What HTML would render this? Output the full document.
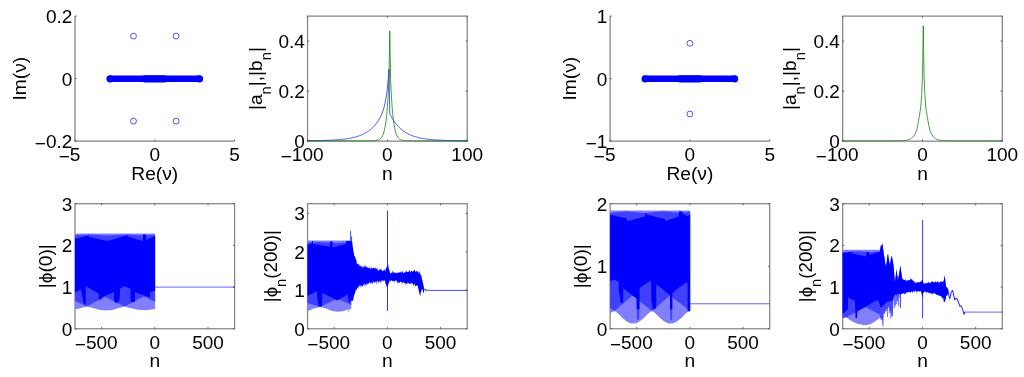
<!DOCTYPE html>
<html lang="en"><head><meta charset="utf-8"><title>figure</title>
<style>html,body{margin:0;padding:0;background:#fff;overflow:hidden}svg{display:block}</style></head>
<body>
<svg width="1024" height="377" viewBox="0 0 1024 377" font-family='"Liberation Sans", "DejaVu Sans", sans-serif' fill="#000">
<rect width="1024" height="377" fill="#fff"/>
<path d="M75 16.1V141.15H234.6" fill="none" stroke="#858585" stroke-width="1.25"/>
<path d="M75 141.15v-1.6M154.8 141.15v-1.6M234.6 141.15v-1.6M75 141.15h1.6M75 78.62h1.6M75 16.1h1.6" fill="none" stroke="#555" stroke-width="1"/>
<line x1="110.11" y1="78.78" x2="199.49" y2="78.78" stroke="#0000ff" stroke-width="6.6" stroke-linecap="round"/>
<line x1="145.22" y1="78.78" x2="164.38" y2="78.78" stroke="#0000ff" stroke-width="7.2" stroke-linecap="round"/>
<circle cx="110.11" cy="78.78" r="3.65" fill="#0000ff"/>
<circle cx="199.49" cy="78.78" r="3.65" fill="#0000ff"/>
<circle cx="133.48" cy="36.11" r="2.95" fill="none" stroke="#0000ff" stroke-width="0.68"/>
<circle cx="176.12" cy="36.11" r="2.95" fill="none" stroke="#0000ff" stroke-width="0.68"/>
<circle cx="133.48" cy="121.14" r="2.95" fill="none" stroke="#0000ff" stroke-width="0.68"/>
<circle cx="176.12" cy="121.14" r="2.95" fill="none" stroke="#0000ff" stroke-width="0.68"/>
<text x="69.6" y="161.45" text-anchor="middle" font-size="19.0"><tspan dy="1.7">−</tspan><tspan dy="-1.7">5</tspan></text>
<text x="154.8" y="161.45" text-anchor="middle" font-size="19.0">0</text>
<text x="234.6" y="161.45" text-anchor="middle" font-size="19.0">5</text>
<text x="72.3" y="148" text-anchor="end" font-size="19.0"><tspan dy="1.7">−</tspan><tspan dy="-1.7">0.2</tspan></text>
<text x="72.3" y="86" text-anchor="end" font-size="19.0">0</text>
<text x="72.3" y="23" text-anchor="end" font-size="19.0">0.2</text>
<text x="154.8" y="179.7" text-anchor="middle" font-size="19.2">Re(ν)</text>
<text transform="translate(25.5 78.62) rotate(-90)" text-anchor="middle" font-size="19.2">Im(ν)</text>
<path d="M610.1 16.1V141.15H769.7" fill="none" stroke="#858585" stroke-width="1.25"/>
<path d="M610.1 141.15v-1.6M689.9 141.15v-1.6M769.7 141.15v-1.6M610.1 141.15h1.6M610.1 78.62h1.6M610.1 16.1h1.6" fill="none" stroke="#555" stroke-width="1"/>
<line x1="645.21" y1="78.78" x2="734.59" y2="78.78" stroke="#0000ff" stroke-width="6.6" stroke-linecap="round"/>
<line x1="680.32" y1="78.78" x2="699.48" y2="78.78" stroke="#0000ff" stroke-width="7.2" stroke-linecap="round"/>
<circle cx="645.21" cy="78.78" r="3.65" fill="#0000ff"/>
<circle cx="734.59" cy="78.78" r="3.65" fill="#0000ff"/>
<circle cx="689.9" cy="43.3" r="2.95" fill="none" stroke="#0000ff" stroke-width="0.68"/>
<circle cx="689.9" cy="113.95" r="2.95" fill="none" stroke="#0000ff" stroke-width="0.68"/>
<text x="604.7" y="161.45" text-anchor="middle" font-size="19.0"><tspan dy="1.7">−</tspan><tspan dy="-1.7">5</tspan></text>
<text x="689.9" y="161.45" text-anchor="middle" font-size="19.0">0</text>
<text x="769.7" y="161.45" text-anchor="middle" font-size="19.0">5</text>
<text x="607.4" y="148" text-anchor="end" font-size="19.0"><tspan dy="1.7">−</tspan><tspan dy="-1.7">1</tspan></text>
<text x="607.4" y="86" text-anchor="end" font-size="19.0">0</text>
<text x="607.4" y="23" text-anchor="end" font-size="19.0">1</text>
<text x="689.9" y="179.7" text-anchor="middle" font-size="19.2">Re(ν)</text>
<text transform="translate(576.3 78.62) rotate(-90)" text-anchor="middle" font-size="19.2">Im(ν)</text>
<rect x="307.55" y="16.1" width="159.65" height="125.05" fill="none" stroke="#858585" stroke-width="1.25"/>
<path d="M307.55 141.15v-1.6M307.55 16.1v1.6M387.38 141.15v-1.6M387.38 16.1v1.6M467.2 141.15v-1.6M467.2 16.1v1.6M307.55 141.15h1.6M467.2 141.15h-1.6M307.55 91.13h1.6M467.2 91.13h-1.6M307.55 41.11h1.6M467.2 41.11h-1.6" fill="none" stroke="#555" stroke-width="1"/>
<polyline points="307.55,140.72 308.35,140.72 309.15,140.71 309.94,140.7 310.74,140.69 311.54,140.68 312.34,140.67 313.14,140.66 313.94,140.65 314.73,140.64 315.53,140.63 316.33,140.62 317.13,140.6 317.93,140.59 318.73,140.57 319.52,140.56 320.32,140.54 321.12,140.52 321.92,140.5 322.72,140.48 323.51,140.46 324.31,140.43 325.11,140.41 325.91,140.38 326.71,140.36 327.51,140.33 328.3,140.3 329.1,140.26 329.9,140.23 330.7,140.19 331.5,140.16 332.3,140.11 333.09,140.07 333.89,140.03 334.69,139.98 335.49,139.93 336.29,139.87 337.09,139.81 337.88,139.75 338.68,139.69 339.48,139.62 340.28,139.55 341.08,139.47 341.87,139.39 342.67,139.3 343.47,139.21 344.27,139.12 345.07,139.01 345.87,138.91 346.66,138.79 347.46,138.67 348.26,138.54 349.06,138.41 349.86,138.26 350.66,138.11 351.45,137.95 352.25,137.78 353.05,137.6 353.85,137.41 354.65,137.21 355.44,136.99 356.24,136.77 357.04,136.53 357.84,136.27 358.64,136 359.44,135.72 360.23,135.42 361.03,135.1 361.83,134.76 362.63,134.4 363.43,134.02 364.23,133.62 365.02,133.19 365.82,132.74 366.62,132.26 367.42,131.76 368.22,131.22 369.02,130.65 369.81,130.05 370.61,129.41 371.41,128.74 372.21,128.02 373.01,127.25 373.8,126.44 374.6,125.58 375.4,124.66 376.2,123.67 377,122.61 377.8,121.47 378.59,120.24 379.39,118.9 380.19,117.43 380.99,115.8 381.79,113.98 382.59,111.92 383.38,109.54 384.18,106.75 384.98,103.42 385.78,99.37 386.58,94.36 387.38,88.03 388.17,79.91 388.97,69.32 389.77,113.91 390.57,115.45 391.37,116.9 392.16,118.27 392.96,119.56 393.76,120.78 394.56,121.92 395.36,123 396.16,124.02 396.95,124.98 397.75,125.89 398.55,126.75 399.35,127.55 400.15,128.31 400.95,129.03 401.74,129.7 402.54,130.34 403.34,130.94 404.14,131.51 404.94,132.04 405.73,132.54 406.53,133.02 407.33,133.47 408.13,133.89 408.93,134.28 409.73,134.66 410.52,135.01 411.32,135.35 412.12,135.66 412.92,135.96 413.72,136.24 414.52,136.5 415.31,136.75 416.11,136.98 416.91,137.2 417.71,137.41 418.51,137.61 419.31,137.79 420.1,137.97 420.9,138.13 421.7,138.29 422.5,138.43 423.3,138.57 424.09,138.7 424.89,138.83 425.69,138.94 426.49,139.05 427.29,139.15 428.09,139.25 428.88,139.34 429.68,139.43 430.48,139.51 431.28,139.59 432.08,139.66 432.88,139.73 433.67,139.79 434.47,139.85 435.27,139.91 436.07,139.96 436.87,140.01 437.66,140.06 438.46,140.11 439.26,140.15 440.06,140.19 440.86,140.23 441.66,140.26 442.45,140.3 443.25,140.33 444.05,140.36 444.85,140.38 445.65,140.41 446.45,140.44 447.24,140.46 448.04,140.48 448.84,140.5 449.64,140.52 450.44,140.54 451.24,140.56 452.03,140.58 452.83,140.59 453.63,140.61 454.43,140.62 455.23,140.63 456.02,140.65 456.82,140.66 457.62,140.67 458.42,140.68 459.22,140.69 460.02,140.7 460.81,140.71 461.61,140.71 462.41,140.72 463.21,140.73 464.01,140.74 464.81,140.74 465.6,140.75 466.4,140.75 467.2,140.76" fill="none" stroke="#0000ff" stroke-width="0.68" stroke-linejoin="round"/>
<polyline points="307.55,140.85 308.35,140.85 309.15,140.85 309.94,140.85 310.74,140.85 311.54,140.85 312.34,140.85 313.14,140.85 313.94,140.85 314.73,140.85 315.53,140.85 316.33,140.85 317.13,140.85 317.93,140.85 318.73,140.84 319.52,140.84 320.32,140.84 321.12,140.84 321.92,140.84 322.72,140.84 323.51,140.84 324.31,140.84 325.11,140.84 325.91,140.84 326.71,140.84 327.51,140.84 328.3,140.84 329.1,140.84 329.9,140.84 330.7,140.84 331.5,140.84 332.3,140.84 333.09,140.84 333.89,140.84 334.69,140.84 335.49,140.84 336.29,140.84 337.09,140.84 337.88,140.84 338.68,140.84 339.48,140.84 340.28,140.84 341.08,140.84 341.87,140.84 342.67,140.84 343.47,140.84 344.27,140.84 345.07,140.84 345.87,140.84 346.66,140.84 347.46,140.84 348.26,140.84 349.06,140.84 349.86,140.84 350.66,140.84 351.45,140.83 352.25,140.83 353.05,140.83 353.85,140.83 354.65,140.83 355.44,140.83 356.24,140.83 357.04,140.83 357.84,140.83 358.64,140.83 359.44,140.83 360.23,140.83 361.03,140.83 361.83,140.83 362.63,140.83 363.43,140.83 364.23,140.83 365.02,140.83 365.82,140.82 366.62,140.82 367.42,140.81 368.22,140.8 369.02,140.79 369.81,140.77 370.61,140.75 371.41,140.73 372.21,140.7 373.01,140.66 373.8,140.61 374.6,140.55 375.4,140.47 376.2,140.37 377,140.25 377.8,140.1 378.59,139.82 379.39,139.44 380.19,138.91 380.99,138.19 381.79,137.2 382.59,135.76 383.38,133.75 384.18,130.95 384.98,127.51 385.78,122.88 386.58,116.51 387.38,107.39 388.17,95.83 388.97,78.33 389.77,30.81 390.57,78.33 391.37,95.83 392.16,107.39 392.96,116.51 393.76,122.88 394.56,127.51 395.36,130.95 396.16,133.75 396.95,135.76 397.75,137.2 398.55,138.19 399.35,138.91 400.15,139.44 400.95,139.82 401.74,140.1 402.54,140.25 403.34,140.37 404.14,140.47 404.94,140.55 405.73,140.61 406.53,140.66 407.33,140.7 408.13,140.73 408.93,140.75 409.73,140.77 410.52,140.79 411.32,140.8 412.12,140.81 412.92,140.82 413.72,140.82 414.52,140.83 415.31,140.83 416.11,140.83 416.91,140.83 417.71,140.83 418.51,140.83 419.31,140.83 420.1,140.83 420.9,140.83 421.7,140.83 422.5,140.83 423.3,140.83 424.09,140.83 424.89,140.83 425.69,140.83 426.49,140.83 427.29,140.83 428.09,140.83 428.88,140.84 429.68,140.84 430.48,140.84 431.28,140.84 432.08,140.84 432.88,140.84 433.67,140.84 434.47,140.84 435.27,140.84 436.07,140.84 436.87,140.84 437.66,140.84 438.46,140.84 439.26,140.84 440.06,140.84 440.86,140.84 441.66,140.84 442.45,140.84 443.25,140.84 444.05,140.84 444.85,140.84 445.65,140.84 446.45,140.84 447.24,140.84 448.04,140.84 448.84,140.84 449.64,140.84 450.44,140.84 451.24,140.84 452.03,140.84 452.83,140.84 453.63,140.84 454.43,140.84 455.23,140.84 456.02,140.84 456.82,140.84 457.62,140.84 458.42,140.84 459.22,140.84 460.02,140.84 460.81,140.84 461.61,140.85 462.41,140.85 463.21,140.85 464.01,140.85 464.81,140.85 465.6,140.85 466.4,140.85 467.2,140.85" fill="none" stroke="#008000" stroke-width="0.75" stroke-linejoin="round"/>
<text x="302.15" y="161.45" text-anchor="middle" font-size="19.0"><tspan dy="1.7">−</tspan><tspan dy="-1.7">100</tspan></text>
<text x="387.38" y="161.45" text-anchor="middle" font-size="19.0">0</text>
<text x="467.2" y="161.45" text-anchor="middle" font-size="19.0">100</text>
<text x="304.85" y="148" text-anchor="end" font-size="19.0">0</text>
<text x="304.85" y="98" text-anchor="end" font-size="19.0">0.2</text>
<text x="304.85" y="48" text-anchor="end" font-size="19.0">0.4</text>
<text x="387.38" y="179.7" text-anchor="middle" font-size="19.2">n</text>
<text transform="translate(262.3 78.62) rotate(-90)" text-anchor="middle" font-size="19.2">|a<tspan dy="8.6" font-size="14.7">n</tspan><tspan dy="-8.6">|,|b</tspan><tspan dy="8.6" font-size="14.7">n</tspan><tspan dy="-8.6">|</tspan></text>
<rect x="842.65" y="16.1" width="159.65" height="125.05" fill="none" stroke="#858585" stroke-width="1.25"/>
<path d="M842.65 141.15v-1.6M842.65 16.1v1.6M922.48 141.15v-1.6M922.48 16.1v1.6M1002.3 141.15v-1.6M1002.3 16.1v1.6M842.65 141.15h1.6M1002.3 141.15h-1.6M842.65 91.13h1.6M1002.3 91.13h-1.6M842.65 41.11h1.6M1002.3 41.11h-1.6" fill="none" stroke="#555" stroke-width="1"/>
<polyline points="842.65,140.85 843.45,140.85 844.25,140.85 845.04,140.85 845.84,140.85 846.64,140.85 847.44,140.85 848.24,140.85 849.04,140.85 849.83,140.84 850.63,140.84 851.43,140.84 852.23,140.84 853.03,140.84 853.83,140.84 854.62,140.84 855.42,140.84 856.22,140.84 857.02,140.84 857.82,140.84 858.62,140.84 859.41,140.84 860.21,140.84 861.01,140.84 861.81,140.84 862.61,140.84 863.4,140.84 864.2,140.84 865,140.84 865.8,140.84 866.6,140.84 867.4,140.84 868.19,140.84 868.99,140.84 869.79,140.84 870.59,140.84 871.39,140.84 872.19,140.84 872.98,140.84 873.78,140.84 874.58,140.84 875.38,140.84 876.18,140.84 876.97,140.84 877.77,140.84 878.57,140.84 879.37,140.84 880.17,140.84 880.97,140.83 881.76,140.83 882.56,140.83 883.36,140.83 884.16,140.83 884.96,140.83 885.76,140.83 886.55,140.83 887.35,140.83 888.15,140.83 888.95,140.83 889.75,140.83 890.55,140.83 891.34,140.83 892.14,140.83 892.94,140.83 893.74,140.83 894.54,140.83 895.33,140.82 896.13,140.82 896.93,140.81 897.73,140.8 898.53,140.79 899.33,140.77 900.12,140.75 900.92,140.73 901.72,140.7 902.52,140.66 903.32,140.61 904.12,140.55 904.91,140.47 905.71,140.37 906.51,140.25 907.31,140.1 908.11,139.9 908.9,139.65 909.7,139.33 910.5,138.92 911.3,138.41 912.1,137.75 912.9,136.96 913.69,136.04 914.49,134.9 915.29,133.49 916.09,131.75 916.89,129.25 917.69,125.75 918.48,121.21 919.28,116.36 920.08,111.62 920.88,105.94 921.68,94.58 922.48,75.82 923.27,25.8 924.07,75.82 924.87,94.58 925.67,105.94 926.47,111.62 927.26,116.36 928.06,121.21 928.86,125.75 929.66,129.25 930.46,131.75 931.26,133.49 932.05,134.9 932.85,136.04 933.65,136.96 934.45,137.75 935.25,138.41 936.05,138.92 936.84,139.33 937.64,139.65 938.44,139.9 939.24,140.1 940.04,140.25 940.83,140.37 941.63,140.47 942.43,140.55 943.23,140.61 944.03,140.66 944.83,140.7 945.62,140.73 946.42,140.75 947.22,140.77 948.02,140.79 948.82,140.8 949.62,140.81 950.41,140.82 951.21,140.82 952.01,140.83 952.81,140.83 953.61,140.83 954.4,140.83 955.2,140.83 956,140.83 956.8,140.83 957.6,140.83 958.4,140.83 959.19,140.83 959.99,140.83 960.79,140.83 961.59,140.83 962.39,140.83 963.19,140.83 963.98,140.83 964.78,140.83 965.58,140.83 966.38,140.84 967.18,140.84 967.98,140.84 968.77,140.84 969.57,140.84 970.37,140.84 971.17,140.84 971.97,140.84 972.76,140.84 973.56,140.84 974.36,140.84 975.16,140.84 975.96,140.84 976.76,140.84 977.55,140.84 978.35,140.84 979.15,140.84 979.95,140.84 980.75,140.84 981.55,140.84 982.34,140.84 983.14,140.84 983.94,140.84 984.74,140.84 985.54,140.84 986.34,140.84 987.13,140.84 987.93,140.84 988.73,140.84 989.53,140.84 990.33,140.84 991.12,140.84 991.92,140.84 992.72,140.84 993.52,140.84 994.32,140.84 995.12,140.84 995.91,140.84 996.71,140.84 997.51,140.85 998.31,140.85 999.11,140.85 999.91,140.85 1000.7,140.85 1001.5,140.85 1002.3,140.85" fill="none" stroke="#008000" stroke-width="0.75" stroke-linejoin="round"/>
<text x="837.25" y="161.45" text-anchor="middle" font-size="19.0"><tspan dy="1.7">−</tspan><tspan dy="-1.7">100</tspan></text>
<text x="922.48" y="161.45" text-anchor="middle" font-size="19.0">0</text>
<text x="1002.3" y="161.45" text-anchor="middle" font-size="19.0">100</text>
<text x="839.95" y="148" text-anchor="end" font-size="19.0">0</text>
<text x="839.95" y="98" text-anchor="end" font-size="19.0">0.2</text>
<text x="839.95" y="48" text-anchor="end" font-size="19.0">0.4</text>
<text x="922.48" y="179.7" text-anchor="middle" font-size="19.2">n</text>
<text transform="translate(796.2 78.62) rotate(-90)" text-anchor="middle" font-size="19.2">|a<tspan dy="8.6" font-size="14.7">n</tspan><tspan dy="-8.6">|,|b</tspan><tspan dy="8.6" font-size="14.7">n</tspan><tspan dy="-8.6">|</tspan></text>
<rect x="75" y="203.7" width="159.6" height="125.05" fill="none" stroke="#858585" stroke-width="1.25"/>
<path d="M101.6 328.75v-1.6M101.6 203.7v1.6M154.8 328.75v-1.6M154.8 203.7v1.6M208 328.75v-1.6M208 203.7v1.6M75 328.75h1.6M234.6 328.75h-1.6M75 287.07h1.6M234.6 287.07h-1.6M75 245.38h1.6M234.6 245.38h-1.6M75 203.7h1.6M234.6 203.7h-1.6" fill="none" stroke="#555" stroke-width="1"/>
<polygon points="75,233.45 155.1,233.45 155.1,309 150,309.8 145,310.2 138,309.8 131,308.2 124.4,306.4 118,308.2 112,310 106,310.6 100,310 93,308 86.9,306.4 81,308 75,309.5" fill="#8080ff"/>
<polygon points="75,235.3 90,234.5 108,235.5 127,234.5 143,235.5 155.1,234.7 155.1,302 143.8,296.4 124.4,306.4 104.8,296.8 103,296.8 102.6,299.3 100,299.3 86.9,306.4 75,300.8" fill="#4040ff"/>
<polygon points="75,238.8 88.7,235.6 89,237 107.5,241 108.3,240.8 127.5,235.2 128,236.5 142,241 143,241 143,234.4 146,234.4 146,240 155.1,236 155.1,290.8 150,292 150,297.2 135,292.6 135,302 130.6,302 130.6,289 124.2,286.1 120.1,288.4 119.5,300 117.9,302.7 115.5,302.7 114,301 114,292.2 105.1,295.7 99.6,299.8 98.75,299.8 98.75,293.8 85.7,286.1 85.7,304 84.7,304.6 83.8,304.3 82.5,297 80.9,289.6 75,292.5" fill="#0000ff"/>
<line x1="155.1" y1="287.1" x2="234.6" y2="287.1" stroke="#0000ff" stroke-width="0.62"/>
<text x="96.2" y="349.45" text-anchor="middle" font-size="19.0"><tspan dy="1.7">−</tspan><tspan dy="-1.7">500</tspan></text>
<text x="154.8" y="349.45" text-anchor="middle" font-size="19.0">0</text>
<text x="208" y="349.45" text-anchor="middle" font-size="19.0">500</text>
<text x="72.3" y="336" text-anchor="end" font-size="19.0">0</text>
<text x="72.3" y="294" text-anchor="end" font-size="19.0">1</text>
<text x="72.3" y="252" text-anchor="end" font-size="19.0">2</text>
<text x="72.3" y="211" text-anchor="end" font-size="19.0">3</text>
<text x="154.8" y="367.2" text-anchor="middle" font-size="19.2">n</text>
<text transform="translate(52 266.23) rotate(-90)" text-anchor="middle" font-size="19.2">|ϕ(0)|</text>
<rect x="610.1" y="203.7" width="159.6" height="125.05" fill="none" stroke="#858585" stroke-width="1.25"/>
<path d="M636.7 328.75v-1.6M636.7 203.7v1.6M689.9 328.75v-1.6M689.9 203.7v1.6M743.1 328.75v-1.6M743.1 203.7v1.6M610.1 328.75h1.6M769.7 328.75h-1.6M610.1 266.23h1.6M769.7 266.23h-1.6M610.1 203.7h1.6M769.7 203.7h-1.6" fill="none" stroke="#555" stroke-width="1"/>
<polygon points="610.1,210.55 690.15,210.55 690.15,311.6 689.4,311 687.61,312.06 685.83,313.57 684.04,315.26 682.26,316.98 680.47,318.63 678.69,320.15 676.9,321.45 675.11,322.48 673.33,323.19 671.54,323.55 669.76,323.55 667.97,323.19 666.19,322.48 664.4,321.45 662.61,320.15 660.83,318.63 659.04,316.98 657.26,315.26 655.47,313.57 653.69,312.06 651.9,311 650.11,312.06 648.33,313.57 646.54,315.26 644.76,316.98 642.97,318.63 641.19,320.15 639.4,321.45 637.61,322.48 635.83,323.19 634.04,323.55 632.26,323.55 630.47,323.19 628.69,322.48 626.9,321.45 625.11,320.15 623.33,318.63 621.54,316.98 619.76,315.26 617.97,313.57 616.19,312.06 614.4,311 610.1,312.9" fill="#8080ff"/>
<polygon points="610.1,213 626,211.2 645,213 664,211.2 680,213 690.15,211.6 690.15,311 670,295.4 651.9,311 632.5,295.4 614.4,311 610.1,308" fill="#4040ff"/>
<polygon points="636.9,309.5 639.3,309.5 639.3,319.8 636.9,319.8" fill="#4040ff"/>
<polygon points="670.2,309.5 672.2,309.5 672.2,319.8 670.2,319.8" fill="#4040ff"/>
<polygon points="610.1,214.8 626.9,218.5 627,221 629.8,221 630,220.4 645,216.6 645,213.5 646.9,213.5 646.9,214.8 665,219.1 665.1,221 666.8,221 666.9,220.4 678.8,216.6 678.8,211.6 682.5,211.6 682.5,213.5 687.5,216 690.15,214.8 690.15,311.2 687.6,311.2 687.6,283.5 686.3,282.2 677.5,288.8 672.4,293 672.4,309.5 670,309.5 670,295.4 660,287 656.25,284.5 656.25,308 653,309.8 651.25,300 651.25,281 650,281 642.5,286 639.6,288 639.6,309.5 636.6,309.5 636.6,298.5 632.5,295.4 623.75,288.5 623.1,288.5 623.1,303.5 620.6,302.3 618.75,290 618.75,282 614.5,279.5 610.1,281" fill="#0000ff"/>
<line x1="690.15" y1="303.75" x2="769.7" y2="303.75" stroke="#0000ff" stroke-width="0.6"/>
<text x="631.3" y="349.45" text-anchor="middle" font-size="19.0"><tspan dy="1.7">−</tspan><tspan dy="-1.7">500</tspan></text>
<text x="689.9" y="349.45" text-anchor="middle" font-size="19.0">0</text>
<text x="743.1" y="349.45" text-anchor="middle" font-size="19.0">500</text>
<text x="607.4" y="336" text-anchor="end" font-size="19.0">0</text>
<text x="607.4" y="273" text-anchor="end" font-size="19.0">1</text>
<text x="607.4" y="211" text-anchor="end" font-size="19.0">2</text>
<text x="689.9" y="367.2" text-anchor="middle" font-size="19.2">n</text>
<text transform="translate(586.7 266.23) rotate(-90)" text-anchor="middle" font-size="19.2">|ϕ(0)|</text>
<rect x="307.55" y="203.7" width="159.65" height="125.05" fill="none" stroke="#858585" stroke-width="1.25"/>
<path d="M334.16 328.75v-1.6M334.16 203.7v1.6M387.38 328.75v-1.6M387.38 203.7v1.6M440.59 328.75v-1.6M440.59 203.7v1.6M307.55 328.75h1.6M467.2 328.75h-1.6M307.55 290.27h1.6M467.2 290.27h-1.6M307.55 251.8h1.6M467.2 251.8h-1.6M307.55 213.32h1.6M467.2 213.32h-1.6" fill="none" stroke="#555" stroke-width="1"/>
<polygon points="307.55,240.45 351.2,240.45 351.2,309 348,309.6 343,311.2 337.5,311.8 332,311 326,308.6 320,307 314,308.6 307.55,310.9" fill="#8080ff"/>
<polygon points="307.55,242.8 320,242 337,242.9 351.2,242 351.2,305 337.5,298.5 320,307 307.55,303" fill="#4040ff"/>
<polygon points="307.55,245 312,243 312,241 313,241 313,244 330,246.5 330,241.5 332.5,241.5 332.5,247.5 346,244 346,241 351.2,241 351.2,296 350,302 348.5,302 348,294 345,296 337.5,300.5 322.3,293 322,306.5 319,306.5 317.5,300 316.8,291.5 316,291.5 307.55,296" fill="#0000ff"/>
<path d="M350.6 230.8V262M351.6 236.5V262" stroke="#4c4cff" stroke-width="1" fill="none"/>
<polygon points="349.4,241 351.4,241 352.4,262 349.4,262" fill="#0000ff"/>
<polygon points="348.2,309 348.8,313.6 349.4,309" fill="#8080ff"/>
<polygon points="351,237.71 351.42,241.6 351.84,243.62 352.26,241.77 352.68,246.6 353.1,249.04 353.52,252.12 353.94,253.34 354.36,255.89 354.78,256.57 355.2,256.51 355.62,258.78 356.04,260.26 356.46,259.96 356.88,263.8 357.3,263.94 357.72,264.47 358.14,263.25 358.56,264.56 358.98,264.61 359.4,264.73 359.82,266.8 360.24,264.63 360.66,267.04 361.08,265.7 361.5,266.38 361.92,266.65 362.34,267.61 362.76,266.6 363.18,267.7 363.6,266.87 364.02,264.71 364.44,266.17 364.86,267.41 365.28,267.17 365.7,264.27 366.12,267.1 366.54,266.99 366.96,266.88 367.38,268.79 367.8,266.12 368.22,267.99 368.64,268.6 369.06,266.12 369.48,268.31 369.9,268.4 370.32,267.95 370.74,269.58 371.16,265.57 371.58,269.29 372,268 372.42,268.37 372.84,267.97 373.26,268.03 373.68,267.43 374.1,268.18 374.52,268.76 374.94,266.97 375.36,269.36 375.78,267.02 376.2,268.69 376.62,268.24 377.04,270.4 377.46,267.58 377.88,269.68 378.3,270.72 378.72,270.79 379.14,269.19 379.56,270.41 379.98,267.73 380.4,269.49 380.82,269.79 381.24,271.24 381.66,268.34 382.08,270.78 382.5,270.51 382.92,270.64 383.34,271.44 383.76,269.41 384.18,269.49 384.6,269.61 385.02,271.71 385.44,269.92 385.86,268.4 386.28,268.57 386.7,265.85 387.12,267.96 387.54,266.36 387.96,262.64 388.38,266.21 388.8,268.41 389.22,270.12 389.64,270.88 390.06,273.3 390.48,272.92 390.9,273.76 391.32,272.7 391.74,272.36 392.16,273.36 392.58,269.93 393,272.27 393.42,271.48 393.84,273.7 394.26,272.79 394.68,271.54 395.1,273.52 395.52,272.8 395.94,272.42 396.36,272.56 396.78,273.15 397.2,272.76 397.62,273.35 398.04,272.91 398.46,272.33 398.88,272.38 399.3,272.73 399.72,272.04 400.14,272.69 400.56,272.01 400.98,271.03 401.4,272.21 401.82,272.63 402.24,271.99 402.66,270.12 403.08,272.88 403.5,272.72 403.92,273.07 404.34,272.66 404.76,271.93 405.18,271.73 405.6,272.73 406.02,269.48 406.44,271.46 406.86,271.96 407.28,271.84 407.7,271.95 408.12,271.95 408.54,271.16 408.96,271.74 409.38,269.58 409.8,270.95 410.22,272.41 410.64,272.28 411.06,270.18 411.48,271.09 411.9,271.01 412.32,271.52 412.74,271.98 413.16,270.66 413.58,271.24 414,270.51 414.42,270.07 414.84,269.74 415.26,271.82 415.68,271.87 416.1,271.04 416.52,270.59 416.94,272.08 417.36,272.12 417.78,270.77 418.2,271.37 418.62,273.07 419.04,273.45 419.46,272.26 419.88,270.44 420.3,275.95 420.72,274.07 421.14,274.93 421.56,276.78 421.98,279.6 422.4,280.22 422.82,282.15 423.24,284.31 423.66,286.03 424.08,288.71 424.08,293.34 423.66,291.87 423.24,293.46 422.82,289.87 422.4,288.72 421.98,290.69 421.56,288.9 421.14,292.35 420.72,291.92 420.3,296.12 419.88,295.57 419.46,293.33 419.04,292.28 418.62,289.94 418.2,287.8 417.78,286.16 417.36,285.25 416.94,285.34 416.52,285.94 416.1,285.42 415.68,286.94 415.26,285.78 414.84,284.66 414.42,283.91 414,283.53 413.58,285.98 413.16,285.5 412.74,283.91 412.32,282.72 411.9,283.4 411.48,282.52 411.06,284.03 410.64,282.87 410.22,284.3 409.8,283.78 409.38,284.22 408.96,283.34 408.54,283.59 408.12,282.53 407.7,282.24 407.28,283.92 406.86,283.94 406.44,283.95 406.02,282.42 405.6,283.52 405.18,285.16 404.76,282.74 404.34,283.31 403.92,282.6 403.5,282.25 403.08,282.57 402.66,283.45 402.24,281.77 401.82,284.25 401.4,281.75 400.98,281.33 400.56,282.01 400.14,281.65 399.72,283.3 399.3,282.34 398.88,283.27 398.46,281.41 398.04,283.66 397.62,281.3 397.2,284.2 396.78,280.86 396.36,280.51 395.94,280.93 395.52,280.32 395.1,280.59 394.68,283.07 394.26,280.34 393.84,281.19 393.42,281.21 393,281.32 392.58,280.43 392.16,281.6 391.74,280.12 391.32,280.67 390.9,280.67 390.48,281.41 390.06,280.3 389.64,280.98 389.22,282.09 388.8,282.99 388.38,284.32 387.96,285.6 387.54,286.84 387.12,285.04 386.7,287.72 386.28,285.02 385.86,282.9 385.44,284.9 385.02,280.23 384.6,281.29 384.18,279.98 383.76,281.14 383.34,280.29 382.92,281.24 382.5,279.69 382.08,281.19 381.66,279.9 381.24,282.42 380.82,280.4 380.4,282.17 379.98,283.77 379.56,280.47 379.14,281.45 378.72,282.67 378.3,282.18 377.88,281.03 377.46,281.9 377.04,280.76 376.62,281.36 376.2,285.34 375.78,281.41 375.36,281.87 374.94,282.03 374.52,283.76 374.1,281.49 373.68,282.67 373.26,281.38 372.84,281.46 372.42,284.85 372,282.99 371.58,283.15 371.16,282.05 370.74,283.98 370.32,282.4 369.9,283.39 369.48,282.23 369.06,282.09 368.64,284.62 368.22,283.16 367.8,284.4 367.38,283.84 366.96,282.96 366.54,284.21 366.12,286.44 365.7,284.22 365.28,284.78 364.86,287.18 364.44,283.06 364.02,284.09 363.6,284.42 363.18,285.85 362.76,286.48 362.34,285.65 361.92,286.84 361.5,284.58 361.08,288.07 360.66,286.47 360.24,284.84 359.82,284.94 359.4,286.95 358.98,285.53 358.56,287.07 358.14,288.89 357.72,287.46 357.3,287.55 356.88,289.87 356.46,289.19 356.04,290.2 355.62,290.42 355.2,292.24 354.78,294.36 354.36,294.29 353.94,296.21 353.52,297.72 353.1,300.88 352.68,300.16 352.26,301.28 351.84,301.83 351.42,300.92 351,300.09" fill="#0000ff"/>
<path d="M387.5 210.6V310.9" stroke="#0000ff" stroke-width="0.8" fill="none"/>
<polyline points="424,290 425,288.8 426,291 427,289.6 428,290.8 429,290.1 430,290.4 467.2,290.4" fill="none" stroke="#0000ff" stroke-width="0.7"/>
<text x="328.76" y="349.45" text-anchor="middle" font-size="19.0"><tspan dy="1.7">−</tspan><tspan dy="-1.7">500</tspan></text>
<text x="387.38" y="349.45" text-anchor="middle" font-size="19.0">0</text>
<text x="440.59" y="349.45" text-anchor="middle" font-size="19.0">500</text>
<text x="304.85" y="336" text-anchor="end" font-size="19.0">0</text>
<text x="304.85" y="297" text-anchor="end" font-size="19.0">1</text>
<text x="304.85" y="259" text-anchor="end" font-size="19.0">2</text>
<text x="304.85" y="220" text-anchor="end" font-size="19.0">3</text>
<text x="387.38" y="367.2" text-anchor="middle" font-size="19.2">n</text>
<text transform="translate(276.9 266.23) rotate(-90)" text-anchor="middle" font-size="18.7">|ϕ<tspan dy="8.6" font-size="14.7">n</tspan><tspan dy="-8.6">(200)|</tspan></text>
<rect x="842.65" y="203.7" width="159.65" height="125.05" fill="none" stroke="#858585" stroke-width="1.25"/>
<path d="M869.26 328.75v-1.6M869.26 203.7v1.6M922.48 328.75v-1.6M922.48 203.7v1.6M975.69 328.75v-1.6M975.69 203.7v1.6M842.65 328.75h1.6M1002.3 328.75h-1.6M842.65 287.07h1.6M1002.3 287.07h-1.6M842.65 245.38h1.6M1002.3 245.38h-1.6M842.65 203.7h1.6M1002.3 203.7h-1.6" fill="none" stroke="#555" stroke-width="1"/>
<polygon points="842.65,249.75 880.6,249.75 880.6,317.6 875,321.5 871,324 865.4,325.3 858,324 852.3,321.5 847,318 842.65,315.9" fill="#8080ff"/>
<polygon points="842.65,251.9 858,251.2 870,252 880.6,251.2 880.6,315 865.4,307 846,317.5 842.65,318" fill="#4040ff"/>
<polygon points="842.65,253 852,252 852.5,253.5 866,256.6 866.5,252 869,252 869.5,255 880.6,251.5 880.6,306 878,300 875,301 865.4,307 857.5,311 857,318 855.5,318 855,301 848,297.5 848,309 845,312 842.65,314" fill="#0000ff"/>
<path d="M895.2 285V305.5M897.3 285V301M900.4 285V307.5M898.8 285V298" stroke="#0000ff" stroke-width="0.8" fill="none"/>
<path d="M882.9 300V326.5M884.6 300V314M886.2 298V311M887.6 298V317M889.4 296V313M890.8 296V318.5M892.3 296V316.5M894.6 294V308M896.6 292V304M898.4 292V306M900.4 290V307.5M881.2 300V320" stroke="#4a4aff" stroke-width="0.8" fill="none"/>
<polygon points="880,249.58 880.45,248.4 880.9,245.1 881.35,245.9 881.8,245.18 882.25,242.97 882.7,246.02 883.15,249.12 883.6,252.64 884.05,255.69 884.5,258.04 884.95,261.94 885.4,264.31 885.85,266.58 886.3,264.25 886.75,261.96 887.2,258.31 887.65,254.41 888.1,254.2 888.55,257.85 889,260.35 889.45,263.29 889.9,264.87 890.35,262.62 890.8,259.4 891.25,257 891.7,256 892.15,257.77 892.6,260.17 893.05,262.35 893.5,265.74 893.95,269.94 894.4,276.74 894.85,282.06 895.3,278.98 895.75,275.66 896.2,272.59 896.65,269.15 897.1,274.26 897.55,276.76 898,280.41 898.45,277.54 898.9,275.2 899.35,272.26 899.8,269.64 900.25,265.96 900.7,267.37 901.15,271.23 901.6,274.63 902.05,278.1 902.5,278.71 902.95,280.02 903.4,279.13 903.85,279.88 904.3,280.15 904.75,279.75 905.2,280.92 905.65,279.01 906.1,280.66 906.55,281.1 907,280.74 907.45,280.16 907.9,280.8 908.35,280.18 908.8,280.36 909.25,280.83 909.7,279.64 910.15,280.65 910.6,277.91 911.05,279.87 911.5,279.12 911.95,279.73 912.4,279.75 912.85,281.37 913.3,280.95 913.75,281.02 914.2,281.81 914.65,282.74 915.1,282.65 915.55,283.28 916,281.8 916.45,283.35 916.9,282.85 917.35,282.7 917.8,282.35 918.25,282.2 918.7,282.42 919.15,282.77 919.6,282.13 920.05,282.06 920.5,281.53 920.95,282.03 921.4,281.65 921.85,280.2 922.3,279.43 922.75,280.77 923.2,282.62 923.65,283.93 924.1,283.86 924.55,283.79 925,283.46 925.45,283.99 925.9,282.41 926.35,283.43 926.8,283.5 927.25,282.94 927.7,283.05 928.15,281.38 928.6,282.56 929.05,282.99 929.5,283.58 929.95,283.1 930.4,282.72 930.85,283.18 931.3,281.15 931.75,282.21 932.2,282.83 932.65,281.06 933.1,281.73 933.55,283.08 934,281.71 934.45,282.52 934.9,282.74 935.35,281.73 935.8,281.39 936.25,282.38 936.7,282.75 937.15,280.94 937.6,281.47 938.05,282.81 938.5,282.71 938.95,282.38 939.4,282.71 939.85,282.32 940.3,282.21 940.75,281.53 941.2,281.11 941.65,282.42 942.1,282.38 942.55,281.7 943,281.43 943.45,281.69 943.9,279.76 944.35,277.87 944.8,275.19 945.25,279.74 945.7,284.34 946.15,287.19 946.6,287.11 947.05,287.43 947.5,288.05 947.95,289.67 948.4,289.82 948.4,293.58 947.95,293 947.5,294.64 947.05,295.15 946.6,295.73 946.15,295.98 945.7,298.34 945.25,300.23 944.8,302.53 944.35,300.74 943.9,302.55 943.45,297.87 943,297.83 942.55,298.69 942.1,297.06 941.65,296.61 941.2,296.56 940.75,296.29 940.3,295.87 939.85,295.87 939.4,295.79 938.95,295.24 938.5,295.33 938.05,295.09 937.6,295.1 937.15,294.73 936.7,295.19 936.25,294.12 935.8,294.12 935.35,293.66 934.9,293.36 934.45,293.24 934,293.37 933.55,293.15 933.1,292.89 932.65,293.03 932.2,295.02 931.75,292.93 931.3,293.02 930.85,293.92 930.4,292.27 929.95,293.41 929.5,292.43 929.05,292.97 928.6,292.77 928.15,292.12 927.7,291.76 927.25,291.72 926.8,293.49 926.35,292.14 925.9,291.48 925.45,291.46 925,292.23 924.55,291.46 924.1,291.11 923.65,292.74 923.2,292.56 922.75,294.99 922.3,297.98 921.85,294.25 921.4,292.76 920.95,291.21 920.5,291.12 920.05,291.32 919.6,291.44 919.15,291.58 918.7,290.67 918.25,291.29 917.8,291 917.35,291.2 916.9,292.62 916.45,291.58 916,290.65 915.55,290.59 915.1,290.56 914.65,292.06 914.2,290.64 913.75,291.29 913.3,291.01 912.85,292.5 912.4,292.23 911.95,291.2 911.5,291.76 911.05,290.98 910.6,293.11 910.15,292.05 909.7,291.56 909.25,292.09 908.8,291.77 908.35,292.17 907.9,291.68 907.45,292.4 907,292.16 906.55,292.8 906.1,292.48 905.65,292.65 905.2,293.7 904.75,294.67 904.3,292.83 903.85,292.86 903.4,292.94 902.95,293.77 902.5,293.13 902.05,293.93 901.6,293.53 901.15,293.93 900.7,294.4 900.25,294.64 899.8,293.38 899.35,294.28 898.9,294.14 898.45,293.9 898,294.84 897.55,293.78 897.1,294.15 896.65,294.67 896.2,296.15 895.75,294.08 895.3,294.27 894.85,295.23 894.4,295.24 893.95,295.99 893.5,300.86 893.05,309.18 892.6,313.54 892.15,316.76 891.7,316.22 891.25,314.38 890.8,312.58 890.35,310.78 889.9,310.27 889.45,309.32 889,306.37 888.55,307.49 888.1,307.95 887.65,308.1 887.2,308.66 886.75,309.36 886.3,309.99 885.85,311.69 885.4,311.07 884.95,311.67 884.5,314.1 884.05,312.13 883.6,313.7 883.15,322.9 882.7,324.84 882.25,318.94 881.8,320.5 881.35,318.77 880.9,317.98 880.45,318.44 880,317.92" fill="#4848ff"/>
<polygon points="880,249.58 880.45,248.4 880.9,245.1 881.35,245.9 881.8,245.18 882.25,242.97 882.7,246.02 883.15,249.12 883.6,252.64 884.05,255.69 884.5,258.04 884.95,261.94 885.4,264.31 885.85,266.58 886.3,264.25 886.75,261.96 887.2,258.31 887.65,254.41 888.1,254.2 888.55,257.85 889,260.35 889.45,263.29 889.9,264.87 890.35,262.62 890.8,259.4 891.25,257 891.7,256 892.15,257.77 892.6,260.17 893.05,262.35 893.5,265.74 893.95,269.94 894.4,276.74 894.85,282.06 895.3,278.98 895.75,275.66 896.2,272.59 896.65,269.15 897.1,274.26 897.55,276.76 898,280.41 898.45,277.54 898.9,275.2 899.35,272.26 899.8,269.64 900.25,265.96 900.7,267.37 901.15,271.23 901.6,274.63 902.05,278.1 902.5,278.71 902.95,280.02 903.4,279.13 903.85,279.88 904.3,280.15 904.75,279.75 905.2,280.92 905.65,279.01 906.1,280.66 906.55,281.1 907,280.74 907.45,280.16 907.9,280.8 908.35,280.18 908.8,280.36 909.25,280.83 909.7,279.64 910.15,280.65 910.6,277.91 911.05,279.87 911.5,279.12 911.95,279.73 912.4,279.75 912.85,281.37 913.3,280.95 913.75,281.02 914.2,281.81 914.65,282.74 915.1,282.65 915.55,283.28 916,281.8 916.45,283.35 916.9,282.85 917.35,282.7 917.8,282.35 918.25,282.2 918.7,282.42 919.15,282.77 919.6,282.13 920.05,282.06 920.5,281.53 920.95,282.03 921.4,281.65 921.85,280.2 922.3,279.43 922.75,280.77 923.2,282.62 923.65,283.93 924.1,283.86 924.55,283.79 925,283.46 925.45,283.99 925.9,282.41 926.35,283.43 926.8,283.5 927.25,282.94 927.7,283.05 928.15,281.38 928.6,282.56 929.05,282.99 929.5,283.58 929.95,283.1 930.4,282.72 930.85,283.18 931.3,281.15 931.75,282.21 932.2,282.83 932.65,281.06 933.1,281.73 933.55,283.08 934,281.71 934.45,282.52 934.9,282.74 935.35,281.73 935.8,281.39 936.25,282.38 936.7,282.75 937.15,280.94 937.6,281.47 938.05,282.81 938.5,282.71 938.95,282.38 939.4,282.71 939.85,282.32 940.3,282.21 940.75,281.53 941.2,281.11 941.65,282.42 942.1,282.38 942.55,281.7 943,281.43 943.45,281.69 943.9,279.76 944.35,277.87 944.8,275.19 945.25,279.74 945.7,284.34 946.15,287.19 946.6,287.11 947.05,287.43 947.5,288.05 947.95,289.67 948.4,289.82 948.4,293.58 947.95,293 947.5,294.64 947.05,295.15 946.6,295.73 946.15,295.98 945.7,298.34 945.25,300.23 944.8,302.53 944.35,300.74 943.9,302.55 943.45,297.87 943,297.83 942.55,298.69 942.1,297.06 941.65,296.61 941.2,296.56 940.75,296.29 940.3,295.87 939.85,295.87 939.4,295.79 938.95,295.24 938.5,295.33 938.05,295.09 937.6,295.1 937.15,294.73 936.7,295.19 936.25,294.12 935.8,294.12 935.35,293.66 934.9,293.36 934.45,293.24 934,293.37 933.55,293.15 933.1,292.89 932.65,293.03 932.2,295.02 931.75,292.93 931.3,293.02 930.85,293.92 930.4,292.27 929.95,293.41 929.5,292.43 929.05,292.97 928.6,292.77 928.15,292.12 927.7,291.76 927.25,291.72 926.8,293.49 926.35,292.14 925.9,291.48 925.45,291.46 925,292.23 924.55,291.46 924.1,291.11 923.65,292.74 923.2,292.56 922.75,294.99 922.3,297.98 921.85,294.25 921.4,292.76 920.95,291.21 920.5,291.12 920.05,291.32 919.6,291.44 919.15,291.58 918.7,290.67 918.25,291.29 917.8,291 917.35,291.2 916.9,292.62 916.45,291.58 916,290.65 915.55,290.59 915.1,290.56 914.65,292.06 914.2,290.64 913.75,291.29 913.3,291.01 912.85,292.5 912.4,292.23 911.95,291.2 911.5,291.76 911.05,290.98 910.6,293.11 910.15,292.05 909.7,291.56 909.25,292.09 908.8,291.77 908.35,292.17 907.9,291.68 907.45,292.4 907,292.16 906.55,292.8 906.1,292.48 905.65,292.65 905.2,293.7 904.75,294.67 904.3,292.83 903.85,292.86 903.4,292.94 902.95,293.77 902.5,293.13 902.05,293.93 901.6,293.53 901.15,293.93 900.7,294.4 900.25,294.64 899.8,293.38 899.35,294.28 898.9,294.14 898.45,293.9 898,294.84 897.55,293.78 897.1,294.15 896.65,294.67 896.2,296.15 895.75,294.08 895.3,294.27 894.85,295.23 894.4,295.24 893.95,295.99 893.5,297.64 893.05,300.18 892.6,299.91 892.15,300.56 891.7,301.54 891.25,301.23 890.8,300.97 890.35,300.69 889.9,301.72 889.45,302.29 889,300.87 888.55,301.61 888.1,301.7 887.65,301.47 887.2,301.66 886.75,301.98 886.3,302.24 885.85,303.68 885.4,303.04 884.95,303.6 884.5,306.01 884.05,304.01 883.6,305.55 883.15,305.82 882.7,305.81 882.25,305.98 881.8,308.01 881.35,306.75 880.9,306.44 880.45,307.36 880,307.32" fill="#0000ff"/>
<path d="M922.6 220V318.4" stroke="#0000ff" stroke-width="0.78" fill="none"/>
<polyline points="948,292 949.75,298.8 951,293 952.5,290 954.75,300 956,298 957.25,298.8 959.75,306.3 961,305.6 962.5,309 964.1,314.4 964.75,312.1" fill="none" stroke="#0000ff" stroke-width="0.9" stroke-linejoin="round"/>
<line x1="964.6" y1="312.1" x2="1002.3" y2="312.1" stroke="#0000ff" stroke-width="0.62"/>
<text x="863.86" y="349.45" text-anchor="middle" font-size="19.0"><tspan dy="1.7">−</tspan><tspan dy="-1.7">500</tspan></text>
<text x="922.48" y="349.45" text-anchor="middle" font-size="19.0">0</text>
<text x="975.69" y="349.45" text-anchor="middle" font-size="19.0">500</text>
<text x="839.95" y="336" text-anchor="end" font-size="19.0">0</text>
<text x="839.95" y="294" text-anchor="end" font-size="19.0">1</text>
<text x="839.95" y="252" text-anchor="end" font-size="19.0">2</text>
<text x="839.95" y="211" text-anchor="end" font-size="19.0">3</text>
<text x="922.48" y="367.2" text-anchor="middle" font-size="19.2">n</text>
<text transform="translate(812.2 266.23) rotate(-90)" text-anchor="middle" font-size="18.7">|ϕ<tspan dy="8.6" font-size="14.7">n</tspan><tspan dy="-8.6">(200)|</tspan></text>
</svg>
</body></html>
